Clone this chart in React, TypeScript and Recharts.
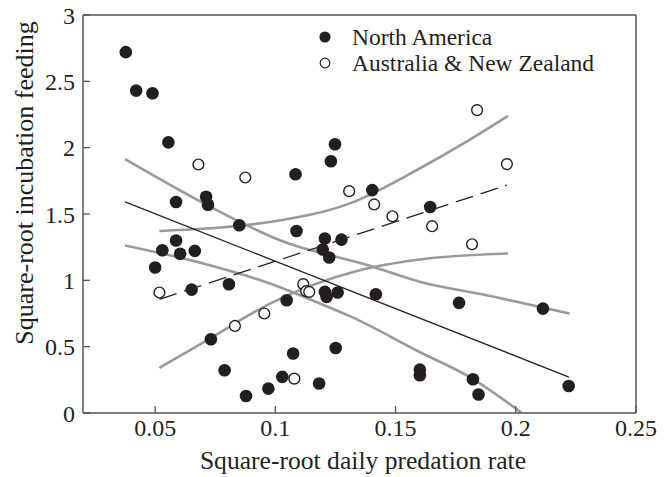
import { ComposedChart, Scatter, Line, XAxis, YAxis, ReferenceLine, Legend, Label } from 'recharts'

const FONT = '"Liberation Serif", "DejaVu Serif", serif'
const INK = '#231f20'
const GRAY = '#9a9a9a'
const AXIS = '#555555'

// filled circles
const northAmerica = [
  { x: 0.0378, y: 2.72 }, { x: 0.0421, y: 2.43 }, { x: 0.0489, y: 2.41 }, { x: 0.0555, y: 2.04 },
  { x: 0.0587, y: 1.59 }, { x: 0.0712, y: 1.63 }, { x: 0.072, y: 1.57 }, { x: 0.085, y: 1.415 },
  { x: 0.1084, y: 1.8 }, { x: 0.0587, y: 1.3 }, { x: 0.053, y: 1.227 }, { x: 0.0604, y: 1.2 },
  { x: 0.0665, y: 1.222 }, { x: 0.05, y: 1.097 }, { x: 0.0652, y: 0.93 }, { x: 0.0807, y: 0.971 },
  { x: 0.0732, y: 0.556 }, { x: 0.0789, y: 0.322 }, { x: 0.0878, y: 0.128 }, { x: 0.0971, y: 0.184 },
  { x: 0.1029, y: 0.272 }, { x: 0.1047, y: 0.85 }, { x: 0.1074, y: 0.448 }, { x: 0.1182, y: 0.222 },
  { x: 0.1248, y: 2.026 }, { x: 0.1231, y: 1.898 }, { x: 0.1403, y: 1.68 }, { x: 0.1644, y: 1.553 },
  { x: 0.1088, y: 1.372 }, { x: 0.1206, y: 1.315 }, { x: 0.1275, y: 1.307 }, { x: 0.1197, y: 1.232 },
  { x: 0.1224, y: 1.172 }, { x: 0.1206, y: 0.913 }, { x: 0.1213, y: 0.875 }, { x: 0.1259, y: 0.908 },
  { x: 0.1418, y: 0.895 }, { x: 0.1251, y: 0.49 }, { x: 0.1601, y: 0.327 }, { x: 0.1601, y: 0.284 },
  { x: 0.1764, y: 0.83 }, { x: 0.2113, y: 0.787 }, { x: 0.1822, y: 0.254 }, { x: 0.1845, y: 0.139 },
  { x: 0.222, y: 0.204 },
]

// open circles
const australiaNZ = [
  { x: 0.068, y: 1.873 }, { x: 0.0875, y: 1.775 }, { x: 0.1307, y: 1.672 }, { x: 0.1411, y: 1.572 },
  { x: 0.1487, y: 1.483 }, { x: 0.1839, y: 2.283 }, { x: 0.1963, y: 1.876 }, { x: 0.1652, y: 1.408 },
  { x: 0.1818, y: 1.272 }, { x: 0.0518, y: 0.908 }, { x: 0.0954, y: 0.75 }, { x: 0.0832, y: 0.656 },
  { x: 0.1116, y: 0.971 }, { x: 0.1128, y: 0.918 }, { x: 0.1141, y: 0.913 }, { x: 0.1079, y: 0.259 },
]

// fitted lines
const naFit = [{ x: 0.0375, y: 1.591 }, { x: 0.2221, y: 0.271 }]
const anzFit = [{ x: 0.0518, y: 0.857 }, { x: 0.1963, y: 1.717 }]

// grey confidence bands
const naUpper = [
  { x: 0.0375, y: 1.913 }, { x: 0.077, y: 1.516 }, { x: 0.1019, y: 1.302 }, { x: 0.1393, y: 1.11 },
  { x: 0.16, y: 0.99 }, { x: 0.1878, y: 0.888 }, { x: 0.2224, y: 0.75 },
]
const naLower = [
  { x: 0.0375, y: 1.263 }, { x: 0.07, y: 1.127 }, { x: 0.0978, y: 0.976 }, { x: 0.1185, y: 0.825 },
  { x: 0.131, y: 0.73 }, { x: 0.16, y: 0.46 }, { x: 0.1809, y: 0.27 }, { x: 0.2025, y: 0 },
]
const anzUpper = [
  { x: 0.0518, y: 1.372 }, { x: 0.077, y: 1.398 }, { x: 0.0978, y: 1.44 }, { x: 0.131, y: 1.58 },
  { x: 0.16, y: 1.843 }, { x: 0.1781, y: 2.03 }, { x: 0.1968, y: 2.24 },
]
const anzLower = [
  { x: 0.0518, y: 0.34 }, { x: 0.0728, y: 0.561 }, { x: 0.0978, y: 0.825 }, { x: 0.1351, y: 1.076 },
  { x: 0.16, y: 1.157 }, { x: 0.1968, y: 1.202 },
]

const xTicks = [0.05, 0.1, 0.15, 0.2, 0.25]
const yTicks = [0, 0.5, 1, 1.5, 2, 2.5, 3]

const legendItems = [
  { label: 'North America', filled: true },
  { label: 'Australia & New Zealand', filled: false },
]

const FilledDot = (p: any) => <circle cx={p.cx} cy={p.cy} r={6.3} fill={INK} />
const OpenDot = (p: any) => (
  <circle cx={p.cx} cy={p.cy} r={5.4} fill="#fff" stroke={INK} strokeWidth={1.4} />
)

const renderLegend = () => (
  <div style={{ fontFamily: FONT, fontSize: 23.5, color: INK, lineHeight: '26px' }}>
    {legendItems.map((item) => (
      <div key={item.label} style={{ display: 'flex', alignItems: 'center', height: 26, whiteSpace: 'nowrap' }}>
        <svg width={14} height={14}>
          {item.filled ? (
            <circle cx={7} cy={7} r={5.6} fill={INK} />
          ) : (
            <circle cx={7} cy={7} r={4.8} fill="#fff" stroke={INK} strokeWidth={1.2} />
          )}
        </svg>
        <span style={{ marginLeft: 20 }}>{item.label}</span>
      </div>
    ))}
  </div>
)

const tickStyle = { fontFamily: FONT, fontSize: 24, fill: INK }

export default function App() {
  return (
    <div style={{ position: 'absolute', left: 0, top: 0 }}>
      <ComposedChart width={669} height={477} margin={{ top: 15, right: 33, left: 0, bottom: 0 }}>
        <XAxis
          type="number"
          dataKey="x"
          domain={[0.02, 0.25]}
          ticks={xTicks}
          allowDataOverflow
          height={64}
          tickSize={-7}
          tickMargin={13}
          tick={tickStyle}
          stroke={AXIS}
          strokeWidth={1.5}
          tickLine={{ stroke: AXIS, strokeWidth: 1.3 }}
        >
          <Label
            content={() => (
              <text x={363} y={469} textAnchor="middle" fontFamily={FONT} fontSize={25.6} fill={INK}>
                Square-root daily predation rate
              </text>
            )}
          />
        </XAxis>
        <YAxis
          type="number"
          dataKey="y"
          domain={[0, 3]}
          ticks={yTicks}
          allowDataOverflow
          width={83}
          tickSize={-7}
          tickMargin={15}
          tick={tickStyle}
          stroke={AXIS}
          strokeWidth={1.5}
          tickLine={{ stroke: AXIS, strokeWidth: 1.3 }}
        >
          <Label
            content={() => (
              <text
                x={33}
                y={183}
                transform="rotate(-90, 33, 183)"
                textAnchor="middle"
                fontFamily={FONT}
                fontSize={26}
                fill={INK}
              >
                Square-root incubation feeding
              </text>
            )}
          />
        </YAxis>
        <ReferenceLine y={3} stroke={AXIS} strokeWidth={1.5} />
        <ReferenceLine x={0.25} stroke={AXIS} strokeWidth={1.5} />

        <Line data={naUpper} dataKey="y" type="monotone" stroke={GRAY} strokeWidth={2.6} dot={false} isAnimationActive={false} />
        <Line data={naLower} dataKey="y" type="monotone" stroke={GRAY} strokeWidth={2.6} dot={false} isAnimationActive={false} />
        <Line data={anzUpper} dataKey="y" type="monotone" stroke={GRAY} strokeWidth={2.6} dot={false} isAnimationActive={false} />
        <Line data={anzLower} dataKey="y" type="monotone" stroke={GRAY} strokeWidth={2.6} dot={false} isAnimationActive={false} />
        <Line data={naFit} dataKey="y" type="linear" stroke={INK} strokeWidth={1.3} dot={false} isAnimationActive={false} />
        <Line data={anzFit} dataKey="y" type="linear" stroke={INK} strokeWidth={1.3} strokeDasharray="18 8" dot={false} isAnimationActive={false} />

        <Scatter name="North America" data={northAmerica} shape={FilledDot} isAnimationActive={false} />
        <Scatter name="Australia & New Zealand" data={australiaNZ} shape={OpenDot} isAnimationActive={false} />

        <Legend
          layout="vertical"
          align="center"
          verticalAlign="middle"
          content={renderLegend}
          wrapperStyle={{ left: 318, top: 24, width: 320, height: 52 }}
        />
      </ComposedChart>
    </div>
  )
}
